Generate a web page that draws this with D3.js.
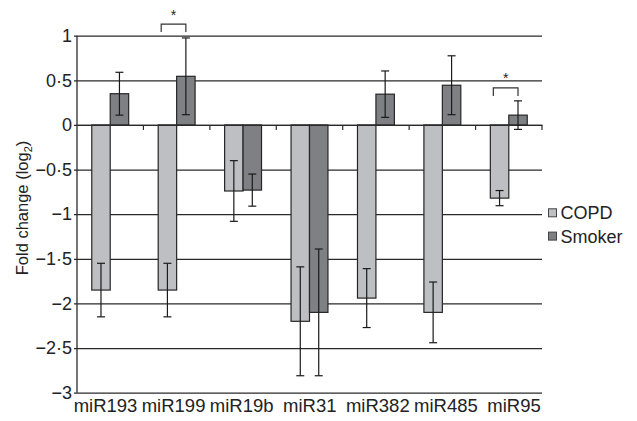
<!DOCTYPE html>
<html>
<head>
<meta charset="utf-8">
<script src="https://cdn.jsdelivr.net/npm/d3@7"></script>
<style>
  html, body { margin: 0; padding: 0; background: #fff; }
  svg { display: block; }
  text { font-family: "Liberation Sans", Arial, Helvetica, sans-serif; fill: #222; }
</style>
</head>
<body>
<svg id="chart" width="637" height="421"></svg>
<script>
// ---- Data ----
const categories = ["miR193", "miR199", "miR19b", "miR31", "miR382", "miR485", "miR95"];
const seriesNames = ["COPD", "Smoker"];
const copdValues = [-1.85, -1.85, -0.74, -2.20, -1.94, -2.10, -0.82];
const copdErrors = [0.30, 0.30, 0.34, 0.61, 0.33, 0.34, 0.085];
const smokerValues = [0.35, 0.545, -0.73, -2.10, 0.345, 0.445, 0.11];
const smokerErrors = [0.24, 0.43, 0.18, 0.71, 0.26, 0.33, 0.16];
const yTicks = [1, 0.5, 0, -0.5, -1, -1.5, -2, -2.5, -3];
const sigCategories = ["miR199", "miR95"];
const sigLevels = [1.13, 0.415];

// ---- Layout ----
const svg = d3.select("#chart");
const plotLeft = 77, plotRight = 542, plotTop = 35.7, plotBottom = 392.7;
const colors = { COPD: "#bebfc3", Smoker: "#7f8084" };
const stroke = "#262626";

const x = d3.scaleBand().domain(categories).range([plotLeft, plotRight]).paddingInner(0).paddingOuter(0);
const xs = d3.scaleBand().domain(seriesNames).range([0, x.bandwidth()]).paddingInner(0).paddingOuter(0.8);
const y = d3.scaleLinear().domain([-3, 1]).range([plotBottom, plotTop]);
const xLabel = d3.scalePoint().domain(categories).range([105.5, 514]);

const rows = [];
categories.forEach((c, i) => {
  rows.push({ cat: c, series: "COPD", value: copdValues[i], err: copdErrors[i] });
  rows.push({ cat: c, series: "Smoker", value: smokerValues[i], err: smokerErrors[i] });
});

// gridlines + y labels
const yAxis = d3.axisLeft(y).tickValues(yTicks).tickSize(-(plotRight - plotLeft)).tickSizeOuter(0)
  .tickFormat(d => d3.format("")(d).replace(".", "\u00B7").replace("-", "\u2212"));
const gy = svg.append("g").attr("transform", `translate(${plotLeft},0)`).call(yAxis);
gy.select(".domain").remove();
gy.selectAll(".tick line").attr("stroke", "#2a2a2a").attr("stroke-width", 1.2).attr("x1", -3);
gy.selectAll(".tick text").attr("x", -5).attr("font-size", 18).attr("fill", "#222")
  .attr("font-family", "Liberation Sans, Arial, sans-serif");

// left axis line
svg.append("line").attr("x1", plotLeft).attr("x2", plotLeft).attr("y1", y(1)).attr("y2", y(-3))
  .attr("stroke", "#2a2a2a").attr("stroke-width", 1.3);

// bars
svg.append("g").selectAll("rect").data(rows).join("rect")
  .attr("x", d => x(d.cat) + xs(d.series))
  .attr("width", xs.bandwidth())
  .attr("y", d => y(Math.max(0, d.value)))
  .attr("height", d => Math.abs(y(d.value) - y(0)))
  .attr("fill", d => colors[d.series])
  .attr("stroke", stroke).attr("stroke-width", 1.2);

// zero axis with ticks at category boundaries
const xAxis = d3.axisBottom(x).tickSize(0).tickFormat("");
const gx = svg.append("g").attr("transform", `translate(0,${y(0)})`).call(xAxis);
gx.select(".domain").attr("stroke", "#2a2a2a").attr("stroke-width", 1.2);
gx.selectAll(".tick").remove();
const boundaries = categories.map(c => x(c) + x.bandwidth());
svg.append("g").selectAll("line").data(boundaries).join("line")
  .attr("x1", d => d).attr("x2", d => d)
  .attr("y1", y(0)).attr("y2", y(0) + 5)
  .attr("stroke", "#2a2a2a").attr("stroke-width", 1.2);

// error bars
const eb = svg.append("g").attr("stroke", "#1a1a1a").attr("stroke-width", 1.2);
rows.forEach(d => {
  const cx = x(d.cat) + xs(d.series) + xs.bandwidth() / 2;
  const y1 = y(d.value + d.err), y2 = y(d.value - d.err);
  eb.append("line").attr("x1", cx).attr("x2", cx).attr("y1", y1).attr("y2", y2);
  eb.append("line").attr("x1", cx - 4).attr("x2", cx + 4).attr("y1", y1).attr("y2", y1);
  eb.append("line").attr("x1", cx - 4).attr("x2", cx + 4).attr("y1", y2).attr("y2", y2);
});

// category labels
svg.append("g").selectAll("text").data(categories).join("text")
  .attr("x", d => xLabel(d)).attr("y", 412.3)
  .attr("text-anchor", "middle").attr("font-size", 18.5)
  .text(d => d);

// significance brackets
sigCategories.forEach((c, i) => {
  const xl = x(c) + xs("COPD") + 3;
  const xr = x(c) + xs("Smoker") + xs.bandwidth() / 2;
  const yt = y(sigLevels[i]);
  svg.append("path")
    .attr("d", `M${xl},${yt + 8}V${yt}H${xr}V${yt + 8}`)
    .attr("fill", "none").attr("stroke", "#333").attr("stroke-width", 1.2);
  svg.append("text").attr("x", (xl + xr) / 2).attr("y", yt - 4.5)
    .attr("text-anchor", "middle").attr("font-size", 14).text("*");
});

// y axis title
const title = svg.append("text")
  .attr("transform", "translate(27.5,208) rotate(-90)")
  .attr("text-anchor", "middle").attr("font-size", 16.5);
title.append("tspan").text("Fold change (log");
title.append("tspan").attr("font-size", 11).attr("dy", 4).text("2");
title.append("tspan").attr("dy", -4).text(")");

// legend
const legend = svg.append("g");
seriesNames.forEach((s, i) => {
  const cy = 212.8 + i * 23.3;
  legend.append("rect").attr("x", 548.5).attr("y", cy - 4).attr("width", 8).attr("height", 8)
    .attr("fill", colors[s]).attr("stroke", "#444").attr("stroke-width", 1);
  legend.append("text").attr("x", 560.5).attr("y", cy + 6.5).attr("font-size", 18).text(s);
});
</script>
</body>
</html>
